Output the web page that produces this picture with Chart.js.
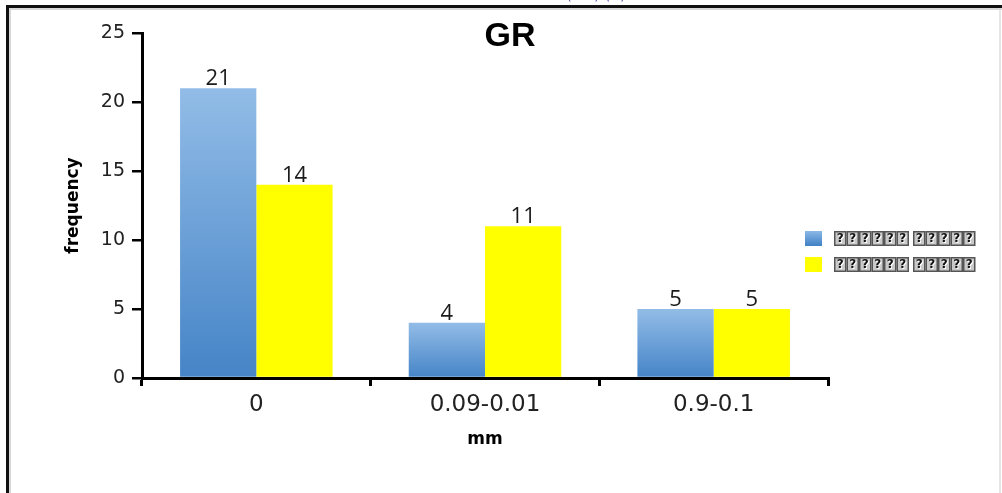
<!DOCTYPE html>
<html>
<head>
<meta charset="utf-8">
<script src="https://cdn.jsdelivr.net/npm/chart.js@4.4.0/dist/chart.umd.min.js"></script>
<style>
  html, body { margin: 0; padding: 0; background: #fff; }
  #wrap { position: relative; width: 1002px; height: 493px; }
</style>
</head>
<body>
<div id="wrap"><canvas id="c" width="1002" height="493"></canvas></div>
<script>
// Size classes on the horizontal axis
const categories = ['0', '0.09-0.01', '0.9-0.1'];
// Series names as they appear in the legend
const seriesNames = ['?????? ?????', '?????? ?????'];
// Frequencies per class
const seriesBlue = [21, 4, 5];
const seriesYellow = [14, 11, 5];
// Vertical axis range and step
const yMin = 0, yMax = 25, yStep = 5;

const chartTitle = 'GR';
const xTitle = 'mm';
const yTitle = 'frequency';
const captionText = '(GR) (1)';

const xTickFont = { family: '"DejaVu Sans", sans-serif', size: 23 };
const yTickFont = { family: '"DejaVu Sans", sans-serif', size: 19 };
const titleFont = { family: '"DejaVu Sans", sans-serif', size: 17, weight: 'bold' };

// Each blue bar fades from light at its top to deeper blue at the baseline
function blueFill(ctx) {
  const chart = ctx.chart;
  if (!chart.chartArea || ctx.type !== 'data') return '#6a9fd6';
  const y = chart.scales.y;
  const top = y.getPixelForValue(ctx.raw);
  const base = y.getPixelForValue(0);
  if (!isFinite(top) || !isFinite(base) || base - top < 1) return '#6a9fd6';
  const g = chart.ctx.createLinearGradient(0, top, 0, base);
  g.addColorStop(0, '#92bce7');
  g.addColorStop(1, '#4584c7');
  return g;
}

// Frame, caption, chart heading, value labels and legend
const decorations = {
  id: 'decorations',
  beforeDraw(chart) {
    const c = chart.ctx;
    c.save();
    c.fillStyle = '#fff';
    c.fillRect(0, 0, chart.width, chart.height);
    // caption line running off the top edge
    c.fillStyle = '#5b5bb8';
    c.font = '15px "DejaVu Sans", sans-serif';
    c.textAlign = 'left';
    c.textBaseline = 'alphabetic';
    c.fillText(captionText, 566, -1);
    // frame
    c.fillStyle = '#d8d8d8';
    c.fillRect(6, 8, chart.width - 6, 2);
    c.fillRect(9, 8, 2, chart.height - 8);
    c.fillStyle = '#111';
    c.fillRect(6, 5, chart.width - 6, 3);
    c.fillRect(6, 5, 3, chart.height - 5);
    c.fillStyle = '#e6e6e6';
    c.fillRect(chart.width - 3, 10, 2, chart.height - 10);
    c.restore();
  },
  afterDatasetsDraw(chart) {
    const c = chart.ctx;
    c.save();
    // value labels
    c.fillStyle = '#1b1b1b';
    c.font = '22px "Open Sans", sans-serif';
    c.textAlign = 'center';
    c.textBaseline = 'alphabetic';
    chart.data.datasets.forEach((ds, di) => {
      const meta = chart.getDatasetMeta(di);
      meta.data.forEach((bar, i) => {
        c.fillText(String(ds.data[i]), bar.x, bar.y - 3);
      });
    });
    // heading
    c.fillStyle = '#000';
    c.font = 'bold 34px "Liberation Sans", Arial, sans-serif';
    c.textBaseline = 'middle';
    c.fillText(chartTitle, 510, 37);
    // legend
    const swatches = ['blue', '#ffff00'];
    const lx = 805, rows = [231, 257];
    chart.data.datasets.forEach((ds, di) => {
      const y0 = rows[di];
      if (swatches[di] === 'blue') {
        const g = c.createLinearGradient(0, y0, 0, y0 + 15);
        g.addColorStop(0, '#8cb8e6');
        g.addColorStop(1, '#3f80c4');
        c.fillStyle = g;
      } else {
        c.fillStyle = swatches[di];
      }
      c.fillRect(lx, y0, 17, 15);
      // label glyphs drawn as boxed characters
      let x = 834;
      c.font = 'bold 12px "DejaVu Sans", sans-serif';
      c.textAlign = 'center';
      c.textBaseline = 'middle';
      for (const ch of ds.label) {
        if (ch === ' ') { x += 4; continue; }
        c.fillStyle = '#555';
        c.fillRect(x, y0, 12.5, 15);
        c.fillStyle = '#c9c9c9';
        c.fillRect(x + 1.5, y0 + 1.5, 9.5, 12);
        c.fillStyle = '#fff';
        c.fillText(ch, x + 7.25, y0 + 8.5);
        c.fillStyle = '#111';
        c.fillText(ch, x + 6.25, y0 + 7.5);
        x += 12.5;
      }
    });
    c.restore();
  }
};

new Chart(document.getElementById('c'), {
  type: 'bar',
  data: {
    labels: categories,
    datasets: [
      { label: seriesNames[0], data: seriesBlue, backgroundColor: blueFill, borderWidth: 0 },
      { label: seriesNames[1], data: seriesYellow, backgroundColor: '#ffff00', borderWidth: 0 }
    ]
  },
  options: {
    responsive: false,
    animation: false,
    devicePixelRatio: 1,
    layout: { padding: { left: 60, top: 33, right: 174, bottom: 40 } },
    plugins: {
      legend: { display: false },
      title: { display: false },
      tooltip: { enabled: false }
    },
    datasets: { bar: { categoryPercentage: 0.667, barPercentage: 1 } },
    scales: {
      x: {
        offset: true,
        afterFit(scale) { scale.height = 75; },
        grid: { offset: true, drawOnChartArea: false, tickLength: 8, color: '#000', lineWidth: 3 },
        border: { color: '#000', width: 3 },
        ticks: { font: xTickFont, color: '#222', padding: 5 },
        title: { display: true, text: xTitle, font: titleFont, color: '#000', padding: { top: 4, bottom: 3 } }
      },
      y: {
        min: yMin, max: yMax,
        afterFit(scale) { scale.width = 82; },
        grid: { drawOnChartArea: false, tickLength: 10, color: '#000', lineWidth: 2.5 },
        border: { color: '#000', width: 3 },
        ticks: { stepSize: yStep, font: yTickFont, color: '#222', padding: 7 },
        title: { display: true, text: yTitle, font: titleFont, color: '#000', padding: { top: 3, bottom: 4 } }
      }
    }
  },
  plugins: [decorations]
});
</script>
</body>
</html>
